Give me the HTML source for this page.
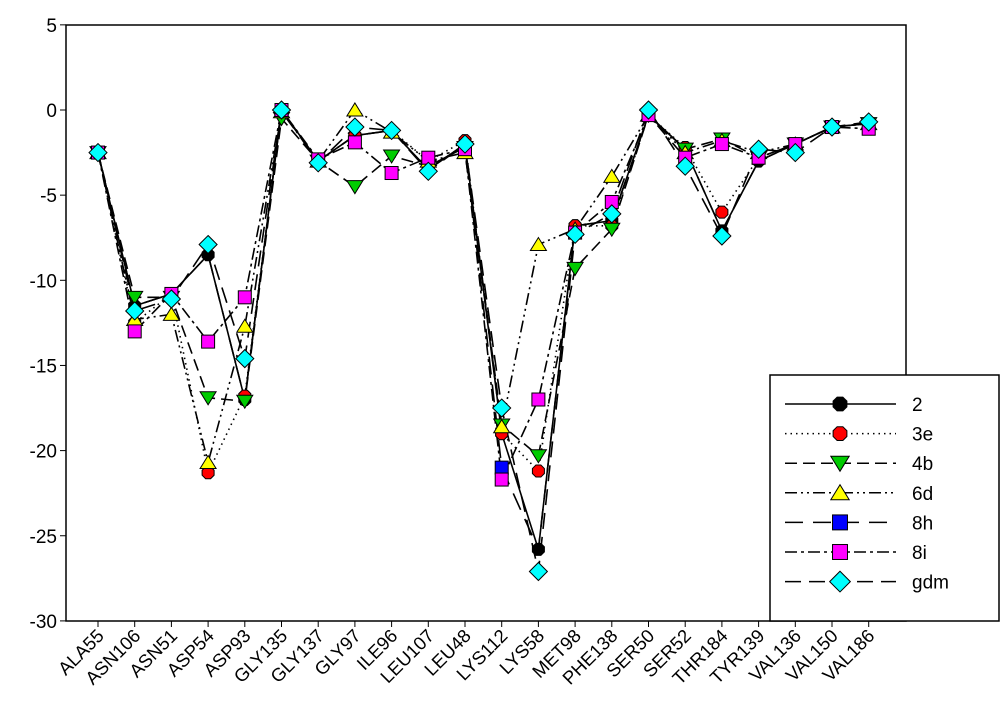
<!DOCTYPE html>
<html><head><meta charset="utf-8"><style>
html,body{margin:0;padding:0;background:#fff;}
svg{display:block;font-family:"Liberation Sans",Arial,sans-serif;}
</style></head><body>
<svg id="s" width="1000" height="719" xmlns="http://www.w3.org/2000/svg"></svg>
<script>
const s=document.getElementById('s');
const L=66,R=906,T=25,B=621;
const Y=v=>110-17.03*v, X=i=>98+36.7*i;
let h='';
h+=`<rect x="${L}" y="${T}" width="${R-L}" height="${B-T}" fill="#fff" stroke="#000" stroke-width="1.5"/>`;
for(let v=5;v>=-30;v-=5){const y=Y(v);h+=`<line x1="${L-6}" y1="${y}" x2="${L}" y2="${y}" stroke="#000"/><text x="${L-9}" y="${y+7}" font-size="19" text-anchor="end">${v}</text>`;}
const cats=["ALA55","ASN106","ASN51","ASP54","ASP93","GLY135","GLY137","GLY97","ILE96","LEU107","LEU48","LYS112","LYS58","MET98","PHE138","SER50","SER52","THR184","TYR139","VAL136","VAL150","VAL186"];
cats.forEach((c,i)=>{const x=X(i);h+=`<line x1="${x}" y1="${B}" x2="${x}" y2="${B+6}" stroke="#000"/><text transform="translate(${x+7},${B+16}) rotate(-45)" font-size="18.5" text-anchor="end">${c}</text>`;});
const S=[
["8h","#00f","18 10","square",[-2.5,-11.5,-10.8,-8.5,-17,0,-3,-1.5,-1.2,-3.5,-2,-21,-25.8,-6.8,-6.5,-0.3,-2.3,-7.1,-3,-2,-1,-0.8],[11]],
["2","#000","","circle",[-2.5,-11.5,-10.8,-8.5,-17,0,-3,-1.5,-1.2,-3.5,-2,-19,-25.8,-6.8,-6.5,-0.3,-2.3,-7.1,-3,-2,-1,-0.8]],
["3e","#f00","1.5 4","circle",[-2.5,-12.5,-10.8,-21.3,-16.8,0,-3,-1.5,-1.2,-3,-1.8,-19,-21.2,-6.8,-6.8,-0.3,-2.2,-6,-2.8,-2,-1,-0.8]],
["4b","#0c0","12 6","down",[-2.5,-11,-11,-16.9,-17.1,-0.5,-3,-4.5,-2.7,-3.3,-2.2,-18.5,-20.3,-9.3,-7,-0.3,-2.3,-1.7,-2.8,-2,-1,-0.8]],
["6d","#ff0","12 4 2 4 2 4","up",[-2.5,-12.3,-12,-20.7,-12.7,-0.1,-3,0,-1.3,-3,-2.5,-18.6,-7.9,-7.0,-3.9,-0.3,-2.5,-1.8,-2.5,-2,-1,-0.8]],
["8i","#f0f","12 4 3 4","square",[-2.5,-13,-10.8,-13.6,-11,0,-2.9,-1.9,-3.7,-2.8,-2.3,-21.7,-17,-7.2,-5.4,-0.3,-2.8,-2,-2.8,-2,-1,-1.1]],
["gdm","#0ff","16 8","diamond",[-2.5,-11.8,-11.1,-7.9,-14.6,0,-3.1,-1,-1.2,-3.6,-2,-17.5,-27.1,-7.3,-6.1,0,-3.3,-7.4,-2.3,-2.5,-1,-0.7]]];
function mk(t,x,y,c,z){
 z=z||1;
 const st=`fill="${c}" stroke="#000" stroke-width="1"`;
 if(t=="circle")return `<polygon points="${[0,1,2,3,4,5,6,7].map(k=>{const a=k*Math.PI/4+Math.PI/8;return (x+6.5*z*Math.cos(a))+','+(y+6.5*z*Math.sin(a))}).join(' ')}" ${st}/>`;
 if(t=="square")return `<rect x="${x-6.5*z}" y="${y-6.5*z}" width="${13*z}" height="${13*z}" ${st}/>`;
 if(t=="down")return `<polygon points="${x-8*z},${y-6*z} ${x+8*z},${y-6*z} ${x},${y+7*z}" ${st}/>`;
 if(t=="up")return `<polygon points="${x-8*z},${y+6*z} ${x+8*z},${y+6*z} ${x},${y-7*z}" ${st}/>`;
 return `<polygon points="${x},${y-9*z} ${x+9*z},${y} ${x},${y+9*z} ${x-9*z},${y}" ${st}/>`;
}
S.forEach(([n,c,d,t,v])=>{h+=`<polyline fill="none" stroke="#000" stroke-width="1.6" ${d?`stroke-dasharray="${d}"`:''} points="${v.map((a,i)=>X(i)+','+Y(a)).join(' ')}"/>`;});
S.forEach(([n,c,d,t,v,only])=>{v.forEach((a,i)=>{if(!only||only.includes(i))h+=mk(t,X(i),Y(a),c);});});
h+=`<rect x="770" y="375" width="229" height="246" fill="#fff" stroke="#000" stroke-width="1.5"/>`;
const LS=[S[1],S[2],S[3],S[4],S[0],S[5],S[6]];
LS.forEach(([n,c,d,t,v],k)=>{const y=404+29.6*k;h+=`<line x1="785" y1="${y}" x2="896" y2="${y}" stroke="#000" stroke-width="1.5" ${d?`stroke-dasharray="${d}"`:''}/>`+mk(t,840,y,c,1.15)+`<text x="912" y="${y+7}" font-size="19">${n}</text>`;});
s.innerHTML=h;
</script>
</body></html>
